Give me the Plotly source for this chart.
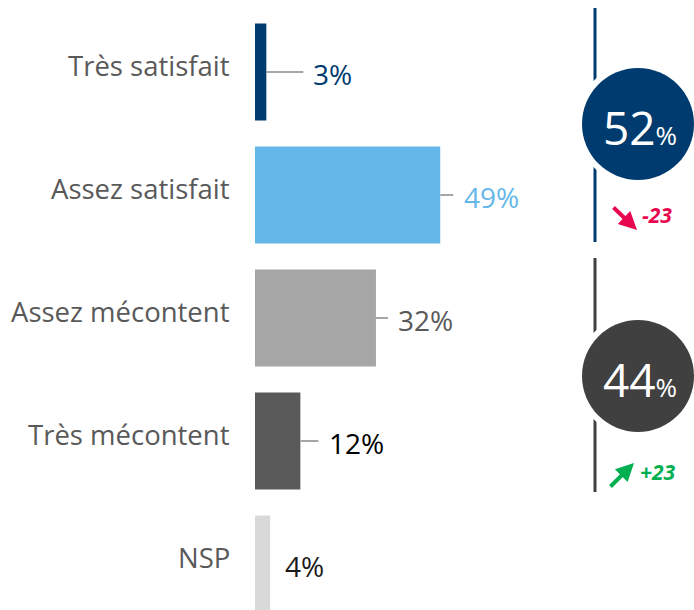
import plotly.graph_objects as go

# ---- data ----
categories = ["Très satisfait", "Assez satisfait", "Assez mécontent", "Très mécontent", "NSP"]
values = [3, 49, 32, 12, 4]
group_members = [[0, 1], [2, 3]]   # satisfaits / mécontents
group_deltas = [-23, 23]

# ---- style ----
W, H = 694, 610
bar_colors = ["#003b6f", "#65b7e9", "#a6a6a6", "#595959", "#d9d9d9"]
label_colors = ["#003b6f", "#65b7e9", "#595959", "#000000", "#1a1a1a"]
leader_len = [37, 13, 12, 18, 0]      # pixels
label_gap = [45, 22, 20, 27, 13]      # pixels from bar end to label
group_colors = ["#003b6f", "#404040"]
delta_colors = {True: "#00b050", False: "#e8074f"}
FONT = "Open Sans"

px_per_unit = 3.78
x0_px = 255
xdom = [x0_px / W, (x0_px + 100 * px_per_unit) / W]
pitch = 123
first_center = 72
yr_top = -first_center / pitch
yr_bot = (H - first_center) / pitch

fig = go.Figure()
fig.add_trace(go.Bar(
    x=values, y=categories, orientation="h",
    marker=dict(color=bar_colors, line=dict(width=0)),
    width=0.79, hoverinfo="skip",
))

annotations = []
shapes = []
for i, (c, v) in enumerate(zip(categories, values)):
    # category label
    annotations.append(dict(
        x=232 / W, xref="paper", xanchor="right",
        y=c, yref="y", yanchor="middle", yshift=7,
        text=c, showarrow=False,
        font=dict(family=FONT, size=27.5, color="#595959"),
    ))
    # value label
    annotations.append(dict(
        x=v, xref="x", xanchor="left", xshift=label_gap[i],
        y=c, yref="y", yanchor="middle", yshift=-2,
        text=f"{v}%", showarrow=False,
        font=dict(family=FONT, size=28, color=label_colors[i]),
    ))
    if leader_len[i] > 0:
        shapes.append(dict(
            type="line", xref="x", yref="y", xsizemode="pixel",
            xanchor=v, x0=0, x1=leader_len[i], y0=i, y1=i,
            line=dict(color="#a6a6a6", width=2),
        ))

# group totals
line_spans = [(8, 242), (258, 492)]
circle_cy = [124, 376]
cx, r = 638, 56
for g, members in enumerate(group_members):
    total = sum(values[m] for m in members)
    y0p, y1p = line_spans[g]
    shapes.append(dict(type="line", xref="paper", yref="paper",
                       x0=595 / W, x1=595 / W, y0=1 - y0p / H, y1=1 - y1p / H,
                       line=dict(color=group_colors[g], width=3)))
    cy = circle_cy[g]
    rw = r + 6
    shapes.append(dict(type="circle", xref="paper", yref="paper",
                       x0=(cx - rw) / W, x1=(cx + rw) / W,
                       y0=1 - (cy + rw) / H, y1=1 - (cy - rw) / H,
                       fillcolor="white", line=dict(width=0)))
    shapes.append(dict(type="circle", xref="paper", yref="paper",
                       x0=(cx - r) / W, x1=(cx + r) / W,
                       y0=1 - (cy + r) / H, y1=1 - (cy - r) / H,
                       fillcolor=group_colors[g], line=dict(width=0)))
    annotations.append(dict(
        x=640 / W, y=1 - (cy + 3) / H, xref="paper", yref="paper",
        xanchor="center", yanchor="middle", showarrow=False,
        text=f"{total}<span style='font-size:26px'>%</span>",
        font=dict(family=FONT, size=46, color="white"),
    ))
    d = group_deltas[g]
    up = d > 0
    col = delta_colors[up]
    if up:
        head, tail = (634, 463), (609, 488)
        tpos = (658, 472)
    else:
        head, tail = (637, 230), (612, 206)
        tpos = (657, 215)
    annotations.append(dict(
        x=head[0] / W, y=1 - head[1] / H, xref="paper", yref="paper",
        ax=tail[0] - head[0], ay=tail[1] - head[1],
        showarrow=True, arrowhead=2, arrowsize=0.9, arrowwidth=4,
        arrowcolor=col, text="",
    ))
    annotations.append(dict(
        x=tpos[0] / W, y=1 - tpos[1] / H, xref="paper", yref="paper",
        xanchor="center", yanchor="middle", showarrow=False,
        text=f"<b><i>{d:+d}</i></b>",
        font=dict(family=FONT, size=21, color=col),
    ))

fig.update_layout(
    width=W, height=H,
    margin=dict(l=0, r=0, t=0, b=0),
    paper_bgcolor="white", plot_bgcolor="white",
    showlegend=False,
    xaxis=dict(domain=xdom, range=[0, 100], visible=False, fixedrange=True),
    yaxis=dict(range=[yr_bot, yr_top], visible=False, fixedrange=True,
               categoryorder="array", categoryarray=categories),
    annotations=annotations, shapes=shapes,
)
fig.write_html("out.html", config={"displayModeBar": False},
               post_script="document.body.style.margin='0px';document.body.style.overflow='hidden';")
